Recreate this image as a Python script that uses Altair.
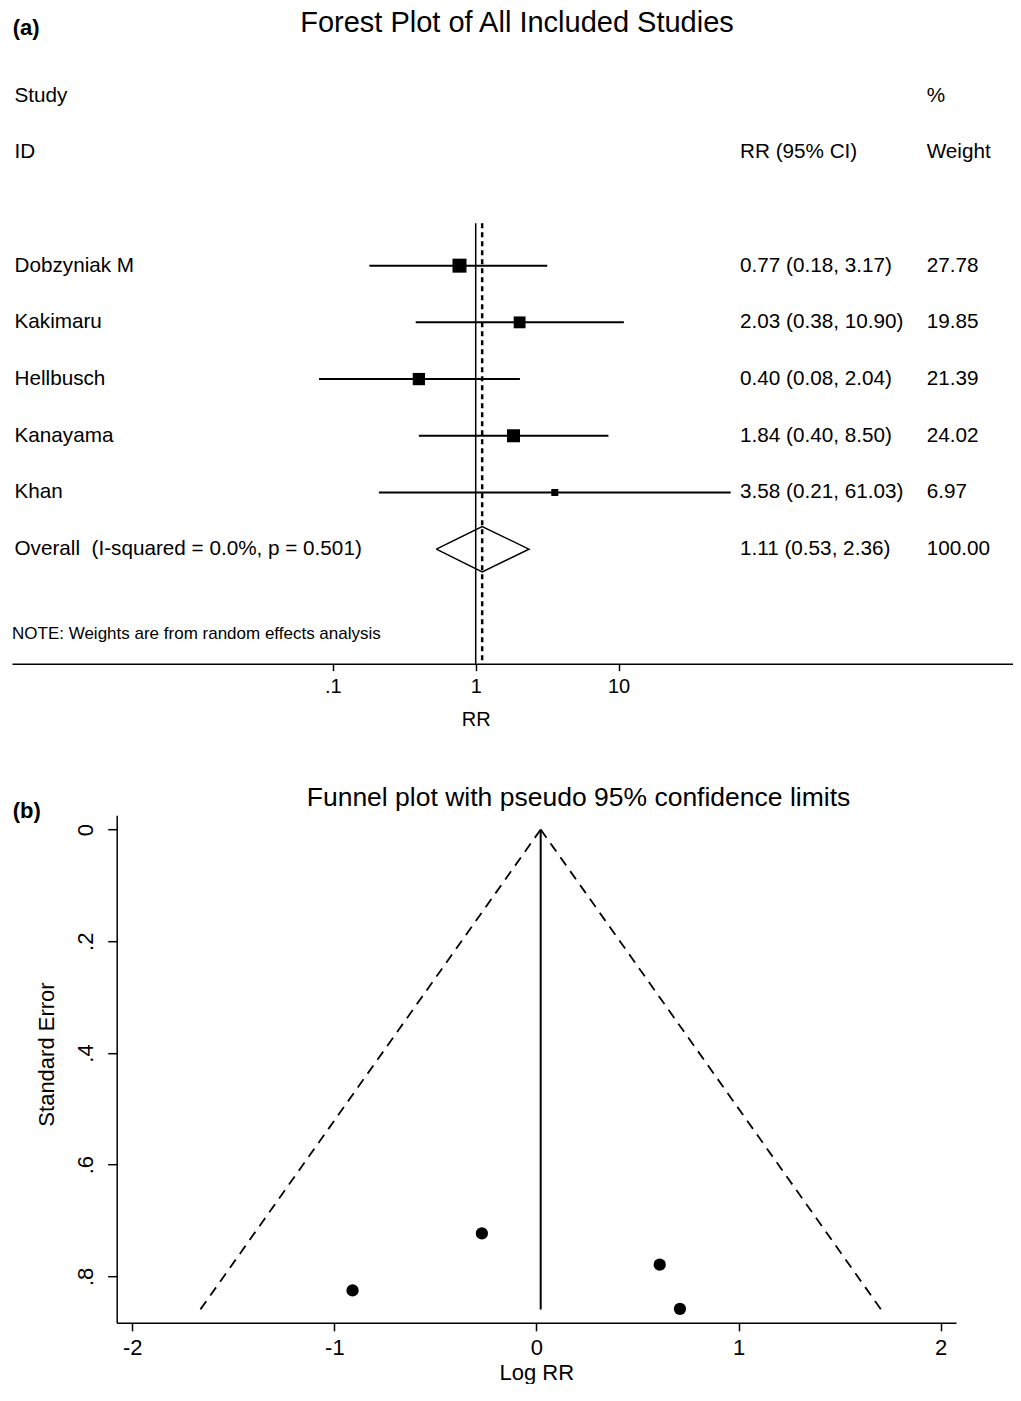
import altair as alt
import pandas as pd

# ---------------- data: forest plot ----------------
studies = ["Dobzyniak M", "Kakimaru", "Hellbusch", "Kanayama", "Khan"]
rr = [0.77, 2.03, 0.40, 1.84, 3.58]
ci_low = [0.18, 0.38, 0.08, 0.40, 0.21]
ci_high = [3.17, 10.90, 2.04, 8.50, 61.03]
weights = [27.78, 19.85, 21.39, 24.02, 6.97]
study_rows = [3, 4, 5, 6, 7]
overall_rr = 1.11
overall_low = 0.53
overall_high = 2.36
overall_weight = 100.00
overall_row = 8
overall_label = "Overall\u00a0 (I-squared = 0.0%, p = 0.501)"
note_text = "NOTE: Weights are from random effects analysis"
note_row = 9.5
rr_ticks = [0.1, 1, 10]

# ---------------- data: funnel plot ----------------
funnel_logrr = [-0.27, 0.71, -0.91, 0.61]
funnel_se = [0.723, 0.858, 0.825, 0.779]
funnel_center = 0.021
funnel_se_max = 0.859
logrr_ticks = [-2, -1, 0, 1, 2]
se_ticks = [0, 0.2, 0.4, 0.6, 0.8]

FONT = "Liberation Sans"
TXT = 20.7

# ---------------- forest plot ----------------
FW, FH = 1001, 606.7
x_scale = alt.Scale(type="log", domain=[0.000566, 5788], nice=False)
y_scale = alt.Scale(domain=[-0.68, 10.02], reverse=True, nice=False, zero=False)
x_axis = alt.Axis(
    values=rr_ticks,
    labelExpr="datum.value < 1 ? '.1' : format(datum.value, 'd')",
    labelFontSize=20, labelBaseline="middle", labelPadding=16, tickSize=7,
    title="RR", titleFontSize=20, titleX=463.7, titleY=55.5,
    titleBaseline="middle", titleAlign="center",
)

fd = pd.DataFrame({"study": studies, "rr": rr, "lo": ci_low, "hi": ci_high,
                   "weight": weights, "row": study_rows})

left_col = pd.DataFrame({"label": ["Study", "ID"] + studies + [overall_label],
                         "row": [0, 1] + study_rows + [overall_row]})
ci_col = pd.DataFrame({
    "label": ["RR (95% CI)"]
    + [f"{a:.2f} ({b:.2f}, {c:.2f})" for a, b, c in zip(rr, ci_low, ci_high)]
    + [f"{overall_rr:.2f} ({overall_low:.2f}, {overall_high:.2f})"],
    "row": [1] + study_rows + [overall_row]})
w_col = pd.DataFrame({"label": ["%", "Weight"] + [f"{w:.2f}" for w in weights]
                      + [f"{overall_weight:.2f}"],
                      "row": [0, 1] + study_rows + [overall_row]})
note_df = pd.DataFrame({"label": [note_text], "row": [note_row]})

null_df = pd.DataFrame({"rr": [1.0], "top": [2.25], "bottom": [10.02]})
pooled_df = pd.DataFrame({"rr": [overall_rr], "top": [2.25], "bottom": [10.02]})
diamond_df = pd.DataFrame({
    "rr": [overall_low, overall_rr, overall_high, overall_rr, overall_low],
    "row": [overall_row, overall_row - 0.4, overall_row, overall_row + 0.4, overall_row],
    "order": [0, 1, 2, 3, 4]})

null_line = alt.Chart(null_df).mark_rule(color="black", strokeWidth=1.5).encode(
    x=alt.X("rr:Q", scale=x_scale, axis=x_axis, title="RR"),
    y=alt.Y("top:Q", scale=y_scale, axis=None),
    y2="bottom:Q")
pooled_line = alt.Chart(pooled_df).mark_rule(
    color="black", strokeWidth=2.5, strokeDash=[5, 4]).encode(
    x=alt.X("rr:Q", scale=x_scale, axis=x_axis, title="RR"),
    y=alt.Y("top:Q", scale=y_scale, axis=None),
    y2="bottom:Q")
ci_lines = alt.Chart(fd).mark_rule(color="black", strokeWidth=2).encode(
    x=alt.X("lo:Q", scale=x_scale, axis=x_axis, title="RR"),
    x2="hi:Q",
    y=alt.Y("row:Q", scale=y_scale, axis=None))
boxes = alt.Chart(fd).mark_square(color="black", opacity=1, filled=True).encode(
    x=alt.X("rr:Q", scale=x_scale, axis=x_axis, title="RR"),
    y=alt.Y("row:Q", scale=y_scale, axis=None),
    size=alt.Size("weight:Q", scale=alt.Scale(domain=[0, 27.78], range=[0, 196]),
                  legend=None))
diamond = alt.Chart(diamond_df).mark_line(color="black", strokeWidth=1.5).encode(
    x=alt.X("rr:Q", scale=x_scale, axis=x_axis, title="RR"),
    y=alt.Y("row:Q", scale=y_scale, axis=None),
    order="order:Q")


def text_col(df, xpx, size=TXT):
    return alt.Chart(df).mark_text(align="left", baseline="middle", fontSize=size,
                                   color="black").encode(
        x=alt.value(xpx),
        y=alt.Y("row:Q", scale=y_scale, axis=None),
        text="label:N")


t_left = text_col(left_col, 2.5)
t_ci = text_col(ci_col, 728)
t_w = text_col(w_col, 914.7)
t_note = text_col(note_df, 0, size=17)
t_a = alt.Chart(pd.DataFrame({"label": ["(a)"]})).mark_text(
    align="left", baseline="middle", fontSize=22, fontWeight="bold",
    color="black").encode(x=alt.value(0.7), y=alt.value(-29), text="label:N")

forest = alt.layer(
    null_line, pooled_line, ci_lines, boxes, diamond,
    t_left, t_ci, t_w, t_note, t_a
).properties(
    width=FW, height=FH,
    title=alt.TitleParams("Forest Plot of All Included Studies", fontSize=29,
                          fontWeight="normal", anchor="middle", frame="group",
                          dx=4.5, dy=24.5, color="black"))

# ---------------- funnel plot ----------------
# plot area shares its left edge with the forest plot; the axes sit 104.7 px in
X0, X1 = 104.7, 944.0
PW, PH = X1, 507.6
fx_scale = alt.Scale(domain=[-2.077, 2.076], nice=False, zero=False, range=[X0, X1])
fy_scale = alt.Scale(domain=[-0.0256, 0.883], reverse=True, nice=False, zero=False)
fx_axis = alt.Axis(values=logrr_ticks, labelExpr="'' + datum.value", labelFontSize=22,
                   labelBaseline="middle", labelPadding=17, tickSize=8,
                   title="Log RR", titleFontSize=22, titleX=(X0 + X1) / 2, titleY=49.7,
                   titleBaseline="middle", titleAlign="center")
fy_axis = alt.Axis(values=se_ticks, offset=-X0,
                   labelExpr="datum.value == 0 ? '0' : replace(format(datum.value, '.1f'), '0.', '.')",
                   labelFontSize=22, labelAngle=270, labelAlign="center",
                   labelBaseline="middle", labelPadding=22, tickSize=9,
                   title="Standard Error", titleFontSize=22, titleAngle=270,
                   titleX=-70, titleY=238.8, titleBaseline="middle",
                   titleAlign="center")

pts = pd.DataFrame({"logrr": funnel_logrr, "se": funnel_se})
limits = pd.DataFrame({
    "logrr": [funnel_center, funnel_center - 1.96 * funnel_se_max,
              funnel_center, funnel_center + 1.96 * funnel_se_max],
    "se": [0, funnel_se_max, 0, funnel_se_max],
    "side": ["lower", "lower", "upper", "upper"]})
center_df = pd.DataFrame({"logrr": [funnel_center], "se": [0], "se2": [funnel_se_max]})

f_limits = alt.Chart(limits).mark_line(color="black", strokeWidth=1.8,
                                       strokeDash=[10, 7]).encode(
    x=alt.X("logrr:Q", scale=fx_scale, axis=fx_axis, title="Log RR"),
    y=alt.Y("se:Q", scale=fy_scale, axis=fy_axis, title="Standard Error"),
    detail="side:N")
f_center = alt.Chart(center_df).mark_rule(color="black", strokeWidth=2).encode(
    x=alt.X("logrr:Q", scale=fx_scale, axis=fx_axis, title="Log RR"),
    y=alt.Y("se:Q", scale=fy_scale, axis=fy_axis, title="Standard Error"),
    y2="se2:Q")
f_pts = alt.Chart(pts).mark_circle(color="black", opacity=1, size=150).encode(
    x=alt.X("logrr:Q", scale=fx_scale, axis=fx_axis, title="Log RR"),
    y=alt.Y("se:Q", scale=fy_scale, axis=fy_axis, title="Standard Error"))
t_b = alt.Chart(pd.DataFrame({"label": ["(b)"]})).mark_text(
    align="left", baseline="middle", fontSize=22, fontWeight="bold",
    color="black").encode(x=alt.value(0.7), y=alt.value(-4.7), text="label:N")

funnel = alt.layer(f_limits, f_center, f_pts, t_b).properties(
    width=PW, height=PH,
    title=alt.TitleParams("Funnel plot with pseudo 95% confidence limits",
                          fontSize=26.5, fontWeight="normal", anchor="middle",
                          frame="group", dx=94.5, dy=15.6, color="black"))

chart = alt.vconcat(forest, funnel, spacing=54.2).properties(
    padding={"left": 4, "top": 0, "right": 0, "bottom": 0}
).configure(font=FONT).configure_view(stroke=None).configure_axis(
    grid=False, domainColor="black", tickColor="black", labelColor="black",
    titleColor="black", domainWidth=1.5, tickWidth=1.5, titleFontWeight="normal",
    labelFont=FONT, titleFont=FONT
).configure_title(font=FONT)

chart.save("out.html", embed_options={"renderer": "svg", "actions": False})
